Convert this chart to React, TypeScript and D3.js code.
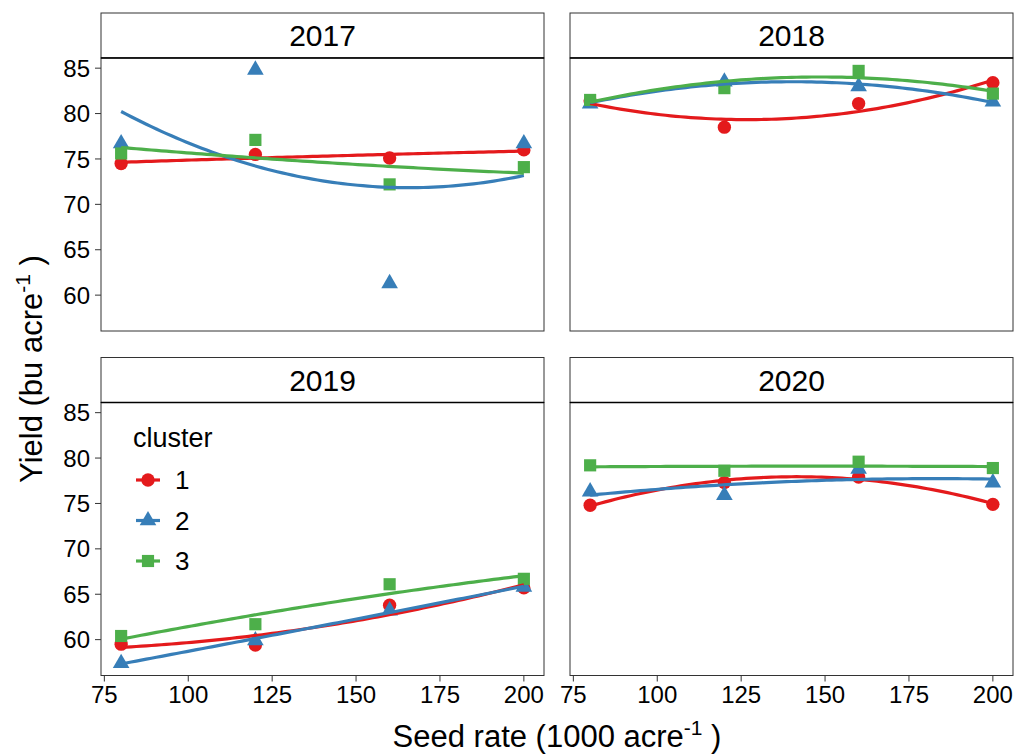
import React from 'react';
import * as d3 from 'd3';

// seed rates (x) and facet years
const seedRates = [80, 120, 160, 200];
const years = ['2017', '2018', '2019', '2020'];
const clusters = ['1', '2', '3'];

// yield per cluster, one array per year (order matches seedRates)
const y2017 = {
  '1': [74.5, 75.5, 75.1, 76.0],
  '2': [76.7, 84.8, 61.3, 76.7],
  '3': [75.6, 77.1, 72.2, 74.1]
};
const y2018 = {
  '1': [81.4, 78.5, 81.1, 83.4],
  '2': [81.1, 83.5, 83.0, 81.3],
  '3': [81.5, 82.8, 84.7, 82.2]
};
const y2019 = {
  '1': [59.5, 59.4, 63.8, 65.7],
  '2': [57.4, 59.9, 63.2, 65.8],
  '3': [60.4, 61.7, 66.1, 66.7]
};
const y2020 = {
  '1': [74.8, 77.3, 77.9, 74.9],
  '2': [76.3, 75.9, 78.8, 77.3],
  '3': [79.2, 78.6, 79.6, 78.9]
};
const yieldByYear = { '2017': y2017, '2018': y2018, '2019': y2019, '2020': y2020 };

const xTicks = [75, 100, 125, 150, 175, 200];
const yTicks = [60, 65, 70, 75, 80, 85];

const colors = { '1': '#E41A1C', '2': '#377EB8', '3': '#4DAF4A' };
const shapes = { '1': d3.symbolCircle, '2': d3.symbolTriangle, '3': d3.symbolSquare };
const shapeSize = { '1': 140, '2': 120, '3': 148 };

// quadratic least squares fit, like geom_smooth(method = "lm", formula = y ~ poly(x, 2))
function quadFit(xs, ys) {
  let s = [0, 0, 0, 0, 0];
  let t = [0, 0, 0];
  xs.forEach((x, i) => {
    const u = (x - 140) / 40;
    for (let k = 0; k < 5; k++) s[k] += Math.pow(u, k);
    for (let k = 0; k < 3; k++) t[k] += ys[i] * Math.pow(u, k);
  });
  const A = [
    [s[0], s[1], s[2], t[0]],
    [s[1], s[2], s[3], t[1]],
    [s[2], s[3], s[4], t[2]]
  ];
  for (let i = 0; i < 3; i++) {
    for (let j = i + 1; j < 3; j++) {
      const f = A[j][i] / A[i][i];
      for (let k = i; k < 4; k++) A[j][k] -= f * A[i][k];
    }
  }
  const c = [0, 0, 0];
  for (let i = 2; i >= 0; i--) {
    let v = A[i][3];
    for (let k = i + 1; k < 3; k++) v -= A[i][k] * c[k];
    c[i] = v / A[i][i];
  }
  return (x) => {
    const u = (x - 140) / 40;
    return c[0] + c[1] * u + c[2] * u * u;
  };
}

const W = 1018;
const H = 754;
const colX = [101, 570];
const panelW = 443;
const stripTop = [13, 357.5];
const stripH = 45;
const plotH = 273;
const font = '"Liberation Sans", Arial, Helvetica, sans-serif';

const x = d3.scaleLinear().domain([74, 206]).range([0, panelW]);
const y = d3.scaleLinear().domain([56.05, 86.12]).range([plotH, 0]);
const fitXs = d3.range(80, 200.01, 1.5);

const Panel = ({ year, col, row }) => {
  const px = colX[col];
  const top = stripTop[row] + stripH;
  const data = yieldByYear[year];
  const line = d3.line().x((d) => x(d[0])).y((d) => y(d[1]));

  return (
    <g>
      {/* strip */}
      <rect x={px} y={stripTop[row]} width={panelW} height={stripH} fill="white" stroke="#333" strokeWidth={1} />
      <text x={px + panelW / 2} y={stripTop[row] + stripH / 2} dy="0.36em" textAnchor="middle" fontSize={30} fill="#000">
        {year}
      </text>
      <g transform={`translate(${px},${top})`}>
        <rect width={panelW} height={plotH} fill="white" />
        {clusters.map((c) =>
          seedRates.map((s, i) => (
            <path
              key={c + s}
              d={d3.symbol(shapes[c], shapeSize[c])()}
              transform={`translate(${x(s)},${y(data[c][i])})`}
              fill={colors[c]}
            />
          ))
        )}
        {clusters.map((c) => {
          const f = quadFit(seedRates, data[c]);
          return (
            <path key={c} d={line(fitXs.map((v) => [v, f(v)]))} fill="none" stroke={colors[c]} strokeWidth={3.2} />
          );
        })}
        <rect width={panelW} height={plotH} fill="none" stroke="#333" strokeWidth={1} />
        <line x1={0} x2={panelW} y1={0} y2={0} stroke="#000" strokeWidth={1.6} />
        {col === 0 &&
          yTicks.map((t) => (
            <g key={t} transform={`translate(0,${y(t)})`}>
              <line x1={-6} x2={0} stroke="#333" strokeWidth={1} />
              <text x={-11} dy="0.36em" textAnchor="end" fontSize={24} fill="#000">
                {t}
              </text>
            </g>
          ))}
        {row === 1 &&
          xTicks.map((t) => (
            <g key={t} transform={`translate(${x(t)},${plotH})`}>
              <line y1={0} y2={6} stroke="#333" strokeWidth={1} />
              <text y={27} textAnchor="middle" fontSize={24} fill="#000">
                {t}
              </text>
            </g>
          ))}
      </g>
    </g>
  );
};

const Legend = () => (
  <g transform="translate(133,447)">
    <text fontSize={27} fill="#000">cluster</text>
    {clusters.map((c, i) => (
      <g key={c} transform={`translate(0,${33 + i * 40.5})`}>
        <line x1={3} x2={27} stroke={colors[c]} strokeWidth={3.2} />
        <path d={d3.symbol(shapes[c], shapeSize[c])()} transform="translate(15,0)" fill={colors[c]} />
        <text x={42} dy="0.36em" fontSize={26} fill="#000">
          {c}
        </text>
      </g>
    ))}
  </g>
);

export default function App() {
  return (
    <svg width={W} height={H} style={{ position: 'absolute', left: 0, top: 0, background: 'white' }} fontFamily={font}>
      <rect width={W} height={H} fill="white" />
      {years.map((yr, i) => (
        <Panel key={yr} year={yr} col={i % 2} row={Math.floor(i / 2)} />
      ))}
      <Legend />
      <text x={557} y={747} textAnchor="middle" fontSize={31} fill="#000">
        Seed rate (1000 acre<tspan dy={-12} fontSize={21}>-1</tspan>
        <tspan dy={12}> )</tspan>
      </text>
      <text transform="translate(42,369) rotate(-90)" textAnchor="middle" fontSize={31} fill="#000">
        Yield (bu acre<tspan dy={-12} fontSize={21}>-1</tspan>
        <tspan dy={12}> )</tspan>
      </text>
    </svg>
  );
}
